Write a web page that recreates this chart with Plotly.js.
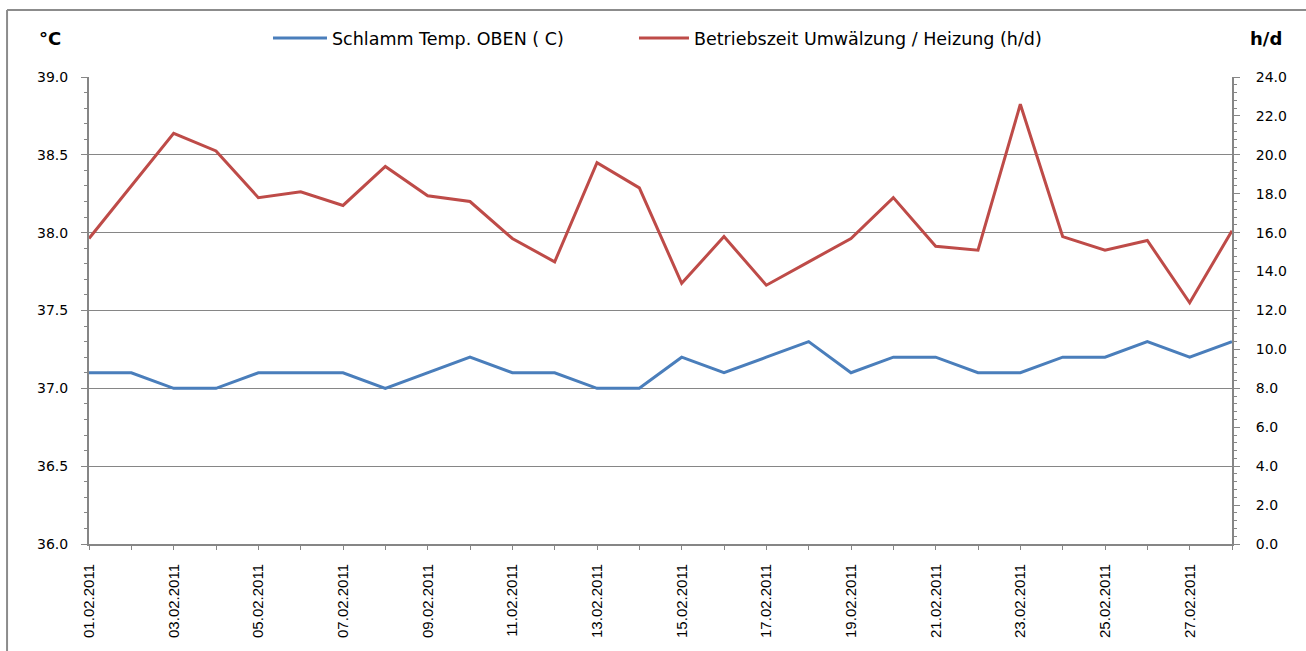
<!DOCTYPE html>
<html>
<head>
<meta charset="utf-8">
<script src="https://cdn.plot.ly/plotly-3.0.1.min.js"></script>
<style>html,body{margin:0;padding:0;background:#fff;}#chart{width:1306px;height:651px;}</style>
</head>
<body>
<div id="chart"></div>
<script>
const dates = ["01.02.2011","02.02.2011","03.02.2011","04.02.2011","05.02.2011","06.02.2011","07.02.2011",
"08.02.2011","09.02.2011","10.02.2011","11.02.2011","12.02.2011","13.02.2011","14.02.2011",
"15.02.2011","16.02.2011","17.02.2011","18.02.2011","19.02.2011","20.02.2011","21.02.2011",
"22.02.2011","23.02.2011","24.02.2011","25.02.2011","26.02.2011","27.02.2011","28.02.2011"];
const schlammTemp = [37.1,37.1,37.0,37.0,37.1,37.1,37.1,37.0,37.1,37.2,37.1,37.1,37.0,37.0,
37.2,37.1,37.2,37.3,37.1,37.2,37.2,37.1,37.1,37.2,37.2,37.3,37.2,37.3];
const betriebszeit = [15.7,18.4,21.1,20.2,17.8,18.1,17.4,19.4,17.9,17.6,15.7,14.5,19.6,18.3,
13.4,15.8,13.3,14.5,15.7,17.8,15.3,15.1,22.6,15.8,15.1,15.6,12.4,16.1];
const tickText = dates.map((d,i)=> i%2===0 ? d : "");

const axisGray = "#868686";
const font = "Liberation Sans, Arial, sans-serif";
const wideFont = "DejaVu Sans, Liberation Sans, sans-serif";
const legendFont = {family: wideFont, size: 17.5, color: "#000"};

const traces = [
  {x: dates, y: schlammTemp, type: "scatter", mode: "lines", name: "Schlamm Temp. OBEN ( C)",
   line: {color: "#4A7EBB", width: 3}, yaxis: "y", legend: "legend"},
  {x: dates, y: betriebszeit, type: "scatter", mode: "lines", name: "Betriebszeit Umwälzung / Heizung (h/d)",
   line: {color: "#BE4B48", width: 3}, yaxis: "y2", legend: "legend2"}
];

const layout = {
  width: 1306, height: 651,
  margin: {l: 89, r: 74, t: 77, b: 107},
  paper_bgcolor: "#fff", plot_bgcolor: "#fff",
  font: {family: font, size: 13, color: "#000"},
  showlegend: true,
  legend: {orientation: "h", x: 0.1566, y: 1.083, xanchor: "left", yanchor: "middle",
           font: legendFont, itemwidth: 54, bgcolor: "rgba(0,0,0,0)"},
  legend2: {orientation: "h", x: 0.4768, y: 1.083, xanchor: "left", yanchor: "middle",
           font: legendFont, itemwidth: 50, bgcolor: "rgba(0,0,0,0)"},
  xaxis: {type: "category", range: [0, 27], tickmode: "array", tickvals: dates, ticktext: tickText,
          tickangle: -90, ticks: "outside", ticklen: 4, tickcolor: axisGray, showline: true,
          linecolor: axisGray, linewidth: 2, showgrid: false, zeroline: false,
          ticklabelstandoff: 8, tickfont: {family: font, size: 15}},
  yaxis: {range: [36, 39], dtick: 0.5, tickformat: ".1f", showgrid: true, gridcolor: axisGray,
          gridwidth: 1.3, showline: true, linecolor: axisGray, linewidth: 2, ticks: "outside",
          ticklen: 6, tickcolor: axisGray, zeroline: false, ticklabelstandoff: 10,
          tickfont: {family: wideFont, size: 14},
          minor: {dtick: 0.1, ticks: "outside", ticklen: 3, tickcolor: axisGray, showgrid: false}},
  yaxis2: {range: [0, 24], dtick: 2, tickformat: ".1f", overlaying: "y", side: "right",
           showgrid: false, showline: true, linecolor: axisGray, linewidth: 2, ticks: "outside",
           ticklen: 6, tickcolor: axisGray, zeroline: false, ticklabelstandoff: 13,
           tickfont: {family: wideFont, size: 14},
           minor: {dtick: 0.4, ticks: "outside", ticklen: 3, tickcolor: axisGray, showgrid: false}},
  annotations: [
    {text: "<b>°C</b>", xref: "paper", yref: "paper", x: -0.034, y: 1.083, xanchor: "center",
     yanchor: "middle", showarrow: false, font: {size: 18, family: wideFont}},
    {text: "<b>h/d</b>", xref: "paper", yref: "paper", x: 1.03, y: 1.083, xanchor: "center",
     yanchor: "middle", showarrow: false, font: {size: 18, family: wideFont}}
  ],
  shapes: [
    {type: "line", xref: "paper", yref: "paper", x0: -0.0717, x1: 1.5, y0: 1.1435, y1: 1.1435,
     line: {color: "#8C8C8C", width: 2}, layer: "below"},
    {type: "line", xref: "paper", yref: "paper", x0: -0.0717, x1: -0.0717, y0: -0.5, y1: 1.1435,
     line: {color: "#8C8C8C", width: 2}, layer: "below"}
  ]
};

Plotly.newPlot("chart", traces, layout, {displayModeBar: false, staticPlot: true});
</script>
</body>
</html>
